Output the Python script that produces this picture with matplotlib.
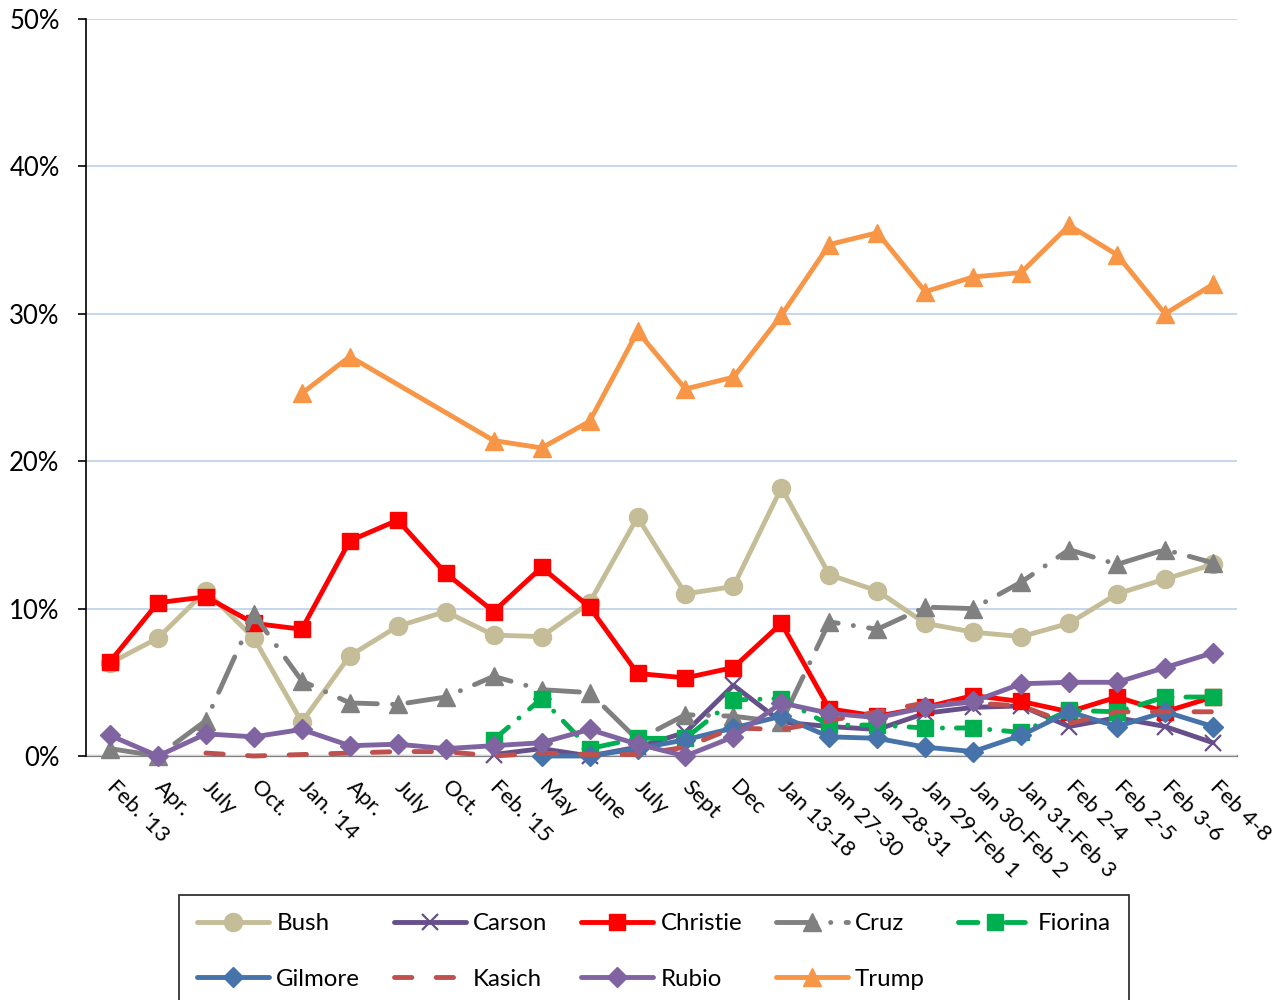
import matplotlib
matplotlib.use("Agg")
import matplotlib.pyplot as plt
from matplotlib.ticker import FuncFormatter, MultipleLocator

plt.rcParams['font.family'] = ['Lato', 'DejaVu Sans']
plt.rcParams['lines.scale_dashes'] = False

categories = ["Feb. '13", "Apr.", "July", "Oct.", "Jan. '14", "Apr.", "July", "Oct.",
              "Feb. '15", "May", "June", "July", "Sept", "Dec", "Jan 13-18", "Jan 27-30",
              "Jan 28-31", "Jan 29-Feb 1", "Jan 30-Feb 2", "Jan 31-Feb 3", "Feb 2-4",
              "Feb 2-5", "Feb 3-6", "Feb 4-8"]

bush = [6.3, 8.0, 11.2, 8.0, 2.3, 6.8, 8.8, 9.8, 8.2, 8.1, 10.4, 16.2, 11.0, 11.5,
        18.2, 12.3, 11.2, 9.0, 8.4, 8.1, 9.0, 11.0, 12.0, 13.0]
carson = [None, None, None, None, None, None, None, None, 0.1, 0.5, 0.0, 0.6, 1.6, 4.8,
          2.3, 2.0, 1.8, 2.9, 3.3, 3.4, 2.0, 2.6, 2.0, 0.9]
christie = [6.4, 10.4, 10.8, 9.0, 8.6, 14.6, 16.0, 12.4, 9.8, 12.8, 10.1, 5.6, 5.3, 6.0,
            9.0, 3.2, 2.7, 3.3, 4.1, 3.7, 3.0, 4.0, 3.0, 4.0]
cruz = [0.5, 0.0, 2.4, 9.6, 5.1, 3.6, 3.5, 4.0, 5.4, 4.5, 4.3, 1.1, 2.8, 2.7,
        2.3, 9.1, 8.6, 10.1, 10.0, 11.8, 14.0, 13.0, 14.0, 13.1]
fiorina = [None, None, None, None, None, None, None, None, 1.1, 3.9, 0.5, 1.2, 1.2, 3.8,
           3.9, 2.1, 2.1, 1.9, 1.9, 1.6, 3.1, 3.0, 4.0, 4.0]
gilmore = [None, None, None, None, None, None, None, None, None, 0.0, 0.0, 0.5, 1.1, 1.9,
           2.7, 1.3, 1.2, 0.6, 0.3, 1.4, 3.0, 2.0, 3.0, 2.0]
kasich = [None, None, 0.2, 0.0, 0.1, 0.2, 0.3, 0.3, 0.0, 0.2, 0.1, 0.1, 0.6, 1.9,
          1.8, 2.4, 3.0, 3.6, 3.6, 3.4, 2.2, 3.0, 3.0, 3.0]
rubio = [1.4, 0.0, 1.5, 1.3, 1.8, 0.7, 0.8, 0.5, 0.7, 0.9, 1.8, 0.8, 0.0, 1.3,
         3.6, 2.9, 2.6, 3.3, 3.7, 4.9, 5.0, 5.0, 6.0, 7.0]
trump = [None, None, None, None, 24.6, 27.1, None, None, 21.4, 20.9, 22.7, 28.8, 24.9, 25.7,
         29.9, 34.7, 35.5, 31.5, 32.5, 32.8, 36.0, 34.0, 30.0, 32.0]

names = ["Bush", "Carson", "Christie", "Cruz", "Fiorina", "Gilmore", "Kasich", "Rubio", "Trump"]
values = [bush, carson, christie, cruz, fiorina, gilmore, kasich, rubio, trump]

LW = 3.5
styles = {
    "Bush":     dict(color="#C4BD97", marker="o", ms=13, ls="-"),
    "Carson":   dict(color="#674F8A", marker="x", ms=12, ls="-", mew=1.6),
    "Christie": dict(color="#FF0000", marker="s", ms=11, ls="-"),
    "Cruz":     dict(color="#808080", marker="^", ms=13, ls=(0, (28, 11, 0.1, 11))),
    "Fiorina":  dict(color="#00B050", marker="s", ms=12, ls=(0, (14, 10, 0.1, 10))),
    "Gilmore":  dict(color="#4673AA", marker="D", ms=10, ls="-"),
    "Kasich":   dict(color="#C0504D", marker=None, ms=0, ls=(0, (12.5, 17.5))),
    "Rubio":    dict(color="#8064A2", marker="D", ms=10, ls="-"),
    "Trump":    dict(color="#F79646", marker="^", ms=13, ls="-"),
}

fig = plt.figure(figsize=(12.78, 10), dpi=100)
ax = fig.add_axes([86 / 1278, 244 / 1000, 1151 / 1278, 737 / 1000])

handles = {}
for name, vals in zip(names, values):
    st = styles[name]
    xs = [i for i, v in enumerate(vals) if v is not None]
    ys = [v for v in vals if v is not None]
    kw = dict(color=st["color"], lw=LW, ls=st["ls"], marker=st["marker"],
              markersize=st["ms"], markerfacecolor=st["color"], markeredgecolor=st["color"],
              dash_capstyle="round", solid_capstyle="round", solid_joinstyle="round",
              label=name, clip_on=False)
    if "mew" in st:
        kw["markeredgewidth"] = st["mew"]
    (ln,) = ax.plot(xs, ys, **kw)
    handles[name] = ln

ax.set_xlim(-0.5, len(categories) - 0.5)
ax.set_ylim(0, 50)
ax.yaxis.set_major_locator(MultipleLocator(10))
ax.yaxis.set_major_formatter(FuncFormatter(lambda v, p: f"{v:.0f}%"))
ax.grid(axis="y", color="#C5D6EE", lw=1.4)
ax.set_axisbelow(True)

ax.set_xticks(range(len(categories)))
ax.set_xticklabels(categories)
ax.tick_params(axis="x", length=0, pad=20, labelsize=16)
for lab in ax.get_xticklabels():
    lab.set_rotation(-45)
    lab.set_ha("left")
    lab.set_va("center")
    lab.set_rotation_mode("anchor")
ax.tick_params(axis="y", length=6, width=1.2, color="black", pad=13, labelsize=18.5)

for s in ["top", "right"]:
    ax.spines[s].set_visible(False)
ax.spines["left"].set_color("black")
ax.spines["left"].set_linewidth(1.2)
ax.spines["bottom"].set_color("#808080")
ax.spines["bottom"].set_linewidth(1.6)
ax.spines["bottom"].set_zorder(0.5)

order = ["Bush", "Gilmore", "Carson", "Kasich", "Christie", "Rubio", "Cruz", "Trump", "Fiorina"]
leg = fig.legend([handles[n] for n in order], order, loc="upper left",
                 bbox_to_anchor=(179 / 1278, 1 - 895 / 1000), bbox_transform=fig.transFigure,
                 ncol=5, frameon=True, fancybox=False, edgecolor="black", fontsize=17.3,
                 handlelength=3.0, handletextpad=0.3, columnspacing=1.4, labelspacing=1.45,
                 borderpad=0.75, borderaxespad=0, numpoints=1)
leg.get_frame().set_linewidth(1.3)

fig.savefig("out.png", dpi=100)
